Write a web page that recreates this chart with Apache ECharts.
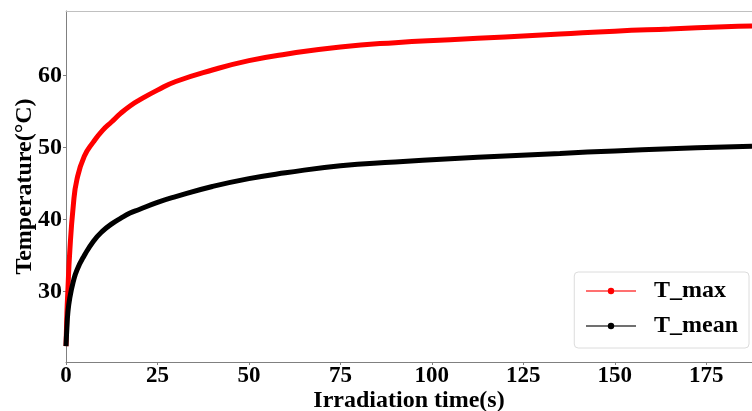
<!DOCTYPE html>
<html>
<head>
<meta charset="utf-8">
<script src="https://cdn.jsdelivr.net/npm/echarts@6/dist/echarts.min.js"></script>
<style>html,body{margin:0;padding:0;background:#fff}#c{width:752px;height:411px}</style>
</head>
<body>
<div id="c"></div>
<script>
const times = [0, 0.25, 0.5, 1, 2, 3, 5, 7.5, 10, 12.5, 15, 17.5, 20, 25, 30, 40, 50, 60, 75, 90, 105, 120, 135, 150, 165, 180, 187.5];
const tMax  = [22.4, 27.0, 30.0, 35.3, 42.0, 45.6, 48.8, 50.8, 52.4, 53.6, 54.8, 55.8, 56.6, 58.0, 59.2, 60.8, 62.1, 63.0, 64.0, 64.6, 65.0, 65.4, 65.8, 66.2, 66.5, 66.8, 66.9];
const tMean = [22.4, 25.0, 27.0, 29.0, 31.4, 33.0, 35.0, 37.0, 38.4, 39.4, 40.2, 40.9, 41.4, 42.4, 43.2, 44.6, 45.7, 46.5, 47.5, 48.0, 48.45, 48.85, 49.2, 49.55, 49.85, 50.1, 50.2];
const xTicks = [0, 25, 50, 75, 100, 125, 150, 175];
const yTicks = [30, 40, 50, 60];
const seriesNames = ['T_max', 'T_mean'];

const FONT = '"Liberation Serif", "Times New Roman", serif';
const pair = (arr) => times.map((t, i) => [t, arr[i]]);

const chart = echarts.init(document.getElementById('c'), null, {renderer: 'canvas'});
chart.setOption({
  animation: false,
  backgroundColor: '#fff',
  grid: {left: 66, right: 0, top: 11, bottom: 49, containLabel: false, outerBoundsMode: 'none'},
  legend: {
    orient: 'vertical',
    right: 3,
    top: 272,
    data: seriesNames,
    itemWidth: 50,
    itemHeight: 8,
    itemGap: 11,
    padding: [7, 11, 10, 11],
    borderColor: '#dcdcdc',
    borderWidth: 1,
    borderRadius: 4,
    backgroundColor: '#fff',
    lineStyle: {width: 1.5, opacity: 0.75},
    textStyle: {fontFamily: FONT, fontWeight: 'bold', fontSize: 24, color: '#000', lineHeight: 24, padding: [0, 0, 0, 13]}
  },
  xAxis: [{
    type: 'value', min: 0, max: 187.5,
    name: 'Irradiation time(s)', nameLocation: 'middle', nameGap: 27, nameMoveOverlap: false,
    nameTextStyle: {fontFamily: FONT, fontWeight: 'bold', fontSize: 24, color: '#000'},
    axisLine: {show: true, lineStyle: {color: '#808080', width: 1}},
    axisTick: {show: true, inside: false, length: 3, lineStyle: {color: '#808080'}, customValues: xTicks},
    axisLabel: {fontFamily: FONT, fontWeight: 'bold', fontSize: 23, color: '#000', margin: 3, customValues: xTicks},
    splitLine: {show: false}
  }, {
    type: 'value', position: 'top', min: 0, max: 187.5,
    axisLine: {show: true, lineStyle: {color: '#c0c0c0', width: 1}},
    axisTick: {show: false}, axisLabel: {show: false}, splitLine: {show: false}
  }],
  yAxis: {
    type: 'value', min: 20.2, max: 69,
    name: 'Temperature(°C)', nameLocation: 'middle', nameGap: 29, nameMoveOverlap: false,
    nameTextStyle: {fontFamily: FONT, fontWeight: 'bold', fontSize: 24, color: '#000'},
    axisLine: {show: true, lineStyle: {color: '#808080', width: 1}},
    axisTick: {show: true, inside: false, length: 3, lineStyle: {color: '#808080'}, customValues: yTicks},
    axisLabel: {fontFamily: FONT, fontWeight: 'bold', fontSize: 24, color: '#000', margin: 4, customValues: yTicks},
    splitLine: {show: false}
  },
  series: [{
    name: seriesNames[0], type: 'line', data: pair(tMax),
    smooth: 0.5,
    symbol: 'circle', symbolSize: 5, showSymbol: false,
    lineStyle: {color: '#ff0000', width: 5},
    itemStyle: {color: '#ff0000'}
  }, {
    name: seriesNames[1], type: 'line', data: pair(tMean),
    smooth: 0.5,
    symbol: 'circle', symbolSize: 5, showSymbol: false,
    lineStyle: {color: '#000000', width: 5},
    itemStyle: {color: '#000000'}
  }]
});
</script>
</body>
</html>
